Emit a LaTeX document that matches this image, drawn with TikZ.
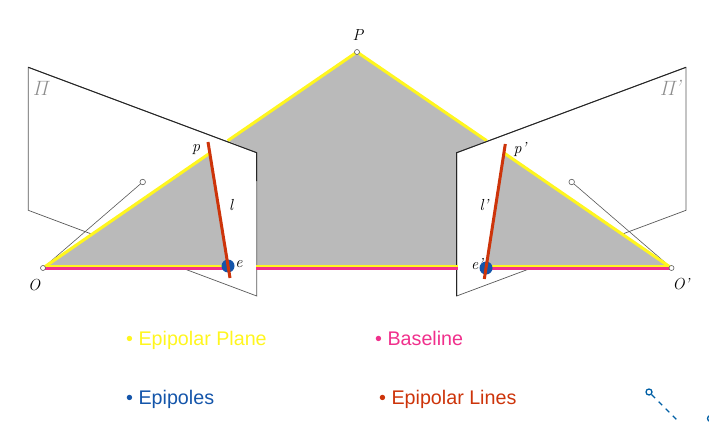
\documentclass[tikz,border=0pt]{standalone}
\usepackage{fontspec}
\setsansfont{Liberation Sans}
\usepackage{xcolor}
\usetikzlibrary{calc,positioning}
\definecolor{planegray}{RGB}{186,186,186}
\definecolor{epiyellow}{RGB}{255,246,30}
\definecolor{basepink}{RGB}{240,48,140}
\definecolor{epiblue}{RGB}{20,85,170}
\definecolor{epired}{RGB}{205,52,10}
\definecolor{lensblue}{RGB}{0,95,165}
\tikzset{
  imgplane/.style={draw=black!65,fill=white,line width=0.7pt},
  ptdot/.style={circle,draw=black!65,fill=white,line width=0.6pt,inner sep=0pt,minimum size=5pt},
  epidot/.style={circle,fill=epiblue,inner sep=0pt,minimum size=13pt},
  ptlabel/.style={font=\fontsize{16}{16}\selectfont\itshape,inner sep=0pt},
  planelabel/.style={inner sep=0pt,text=black!45,font=\fontsize{22}{22}\selectfont,xslant=0.25,transform shape},
  legendtext/.style={font=\fontsize{19.7}{20}\sffamily,anchor=base west,inner sep=0pt}
}
\begin{document}
\begin{tikzpicture}[x=1pt,y=1pt]
    \useasboundingbox (0,0) rectangle (709,421);
    % points
    \coordinate (P) at (357,369);
    \coordinate (O) at (43,153);
    \coordinate (Oi) at (671.5,153);
    \coordinate (p) at (210,268);
    \coordinate (pi) at (504,268);
    \coordinate (la) at (227.7,280.3);
    \coordinate (ra) at (486.7,280.3);
    % central part of the plane
    \fill[planegray] (la) -- (P) -- (ra) -- (456.7,268.3) -- (456.7,153) -- (257,153) -- (257,268.3) -- cycle;
    \draw[epiyellow,line width=3pt] (la) -- (P) -- (ra);
    % image planes
    \draw[imgplane] (28.3,353.7) -- (256.7,268.3) -- (256.7,125) -- (28.3,210.7) -- cycle;
    \draw[imgplane] (686,353.7) -- (456.7,268.3) -- (456.7,125) -- (686,210.7) -- cycle;
    \draw[black!85,line width=1pt] (28.3,353.7) -- (256.7,268.3) -- (256.7,240);
    \draw[black!85,line width=1pt] (686,353.7) -- (456.7,268.3) -- (456.7,125);
    % optical axes
    \node[ptdot,minimum size=5.5pt] (cl) at (142.7,239) {};
    \node[ptdot,minimum size=5.5pt] (cr) at (571.7,239) {};
    \draw[black!65,line width=0.6pt] (O) -- (cl);
    \draw[black!65,line width=0.6pt] (Oi) -- (cr);
    % triangles
    \fill[planegray] (O) -- (p) -- (228,153) -- cycle;
    \fill[planegray] (Oi) -- (pi) -- (486,153) -- cycle;
    \draw[epiyellow,line width=3pt] (O) -- (p);
    \draw[epiyellow,line width=3pt] (Oi) -- (pi);
    % baseline
    \draw[epiyellow,line width=1.6pt] (45,155.2) -- (228,155.2);
    \draw[epiyellow,line width=1.6pt] (256,155.2) -- (458,155.2);
    \draw[epiyellow,line width=1.6pt] (486,155.2) -- (670,155.2);
    \draw[basepink,line width=2.8pt] (45,152.6) -- (228,152.6);
    \draw[basepink,line width=2.8pt] (256,152.6) -- (458,152.6);
    \draw[basepink,line width=2.8pt] (486,152.6) -- (670,152.6);
    % epipoles and epipolar lines
    \node[epidot] (e) at (228,155) {};
    \node[epidot] (ei) at (486,153) {};
    \draw[epired,line width=3pt] (208,279) -- (230,143);
    \draw[epired,line width=3pt] (505.3,277) -- (484.3,142);
    \node[ptdot] (nO) at (O) {};
    \node[ptdot] (nOi) at (Oi) {};
    \node[ptdot] (nP) at (P) {};
    % labels
    \node[ptlabel] (lP) at (358,386) {P};
    \node[ptlabel] (lO) at (34,136) {O};
    \node[ptlabel] (lOi) at (681,137) {O'};
    \node[ptlabel] (lp) at (196,271) {p};
    \node[ptlabel] (lpi) at (520,271) {p'};
    \node[ptlabel] (le) at (239,157) {e};
    \node[ptlabel] (lei) at (477,157) {e'};
    \node[ptlabel] (ll) at (231,216) {l};
    \node[ptlabel] (lli) at (484,216) {l'};
    \node[planelabel] (lpl) at (42,333) {$\Pi$};
    \node[planelabel] (lpr) at (672,333) {$\Pi$'};
    % legend
    \node[legendtext,text=epiyellow] (lg1) at (126,75.5) {• Epipolar Plane};
    \node[legendtext,text=basepink] (lg2) at (375,75.5) {• Baseline};
    \node[legendtext,text=epiblue] (lg3) at (126,17) {• Epipoles};
    \node[legendtext,text=epired] (lg4) at (379,17) {• Epipolar Lines};
    % corner of the next figure
    \node[circle,draw=lensblue,line width=1.3pt,inner sep=0pt,minimum size=6pt] (lens) at (649,29) {};
    \node[circle,draw=lensblue,line width=1.3pt,inner sep=0pt,minimum size=6pt] (lensb) at (710.5,2.5) {};
    \coordinate (lensend) at (680,-2);
    \draw[lensblue,line width=1.2pt,dash pattern=on 5pt off 5pt] (lens) -- (lensend);
  \end{tikzpicture}
\end{document}
